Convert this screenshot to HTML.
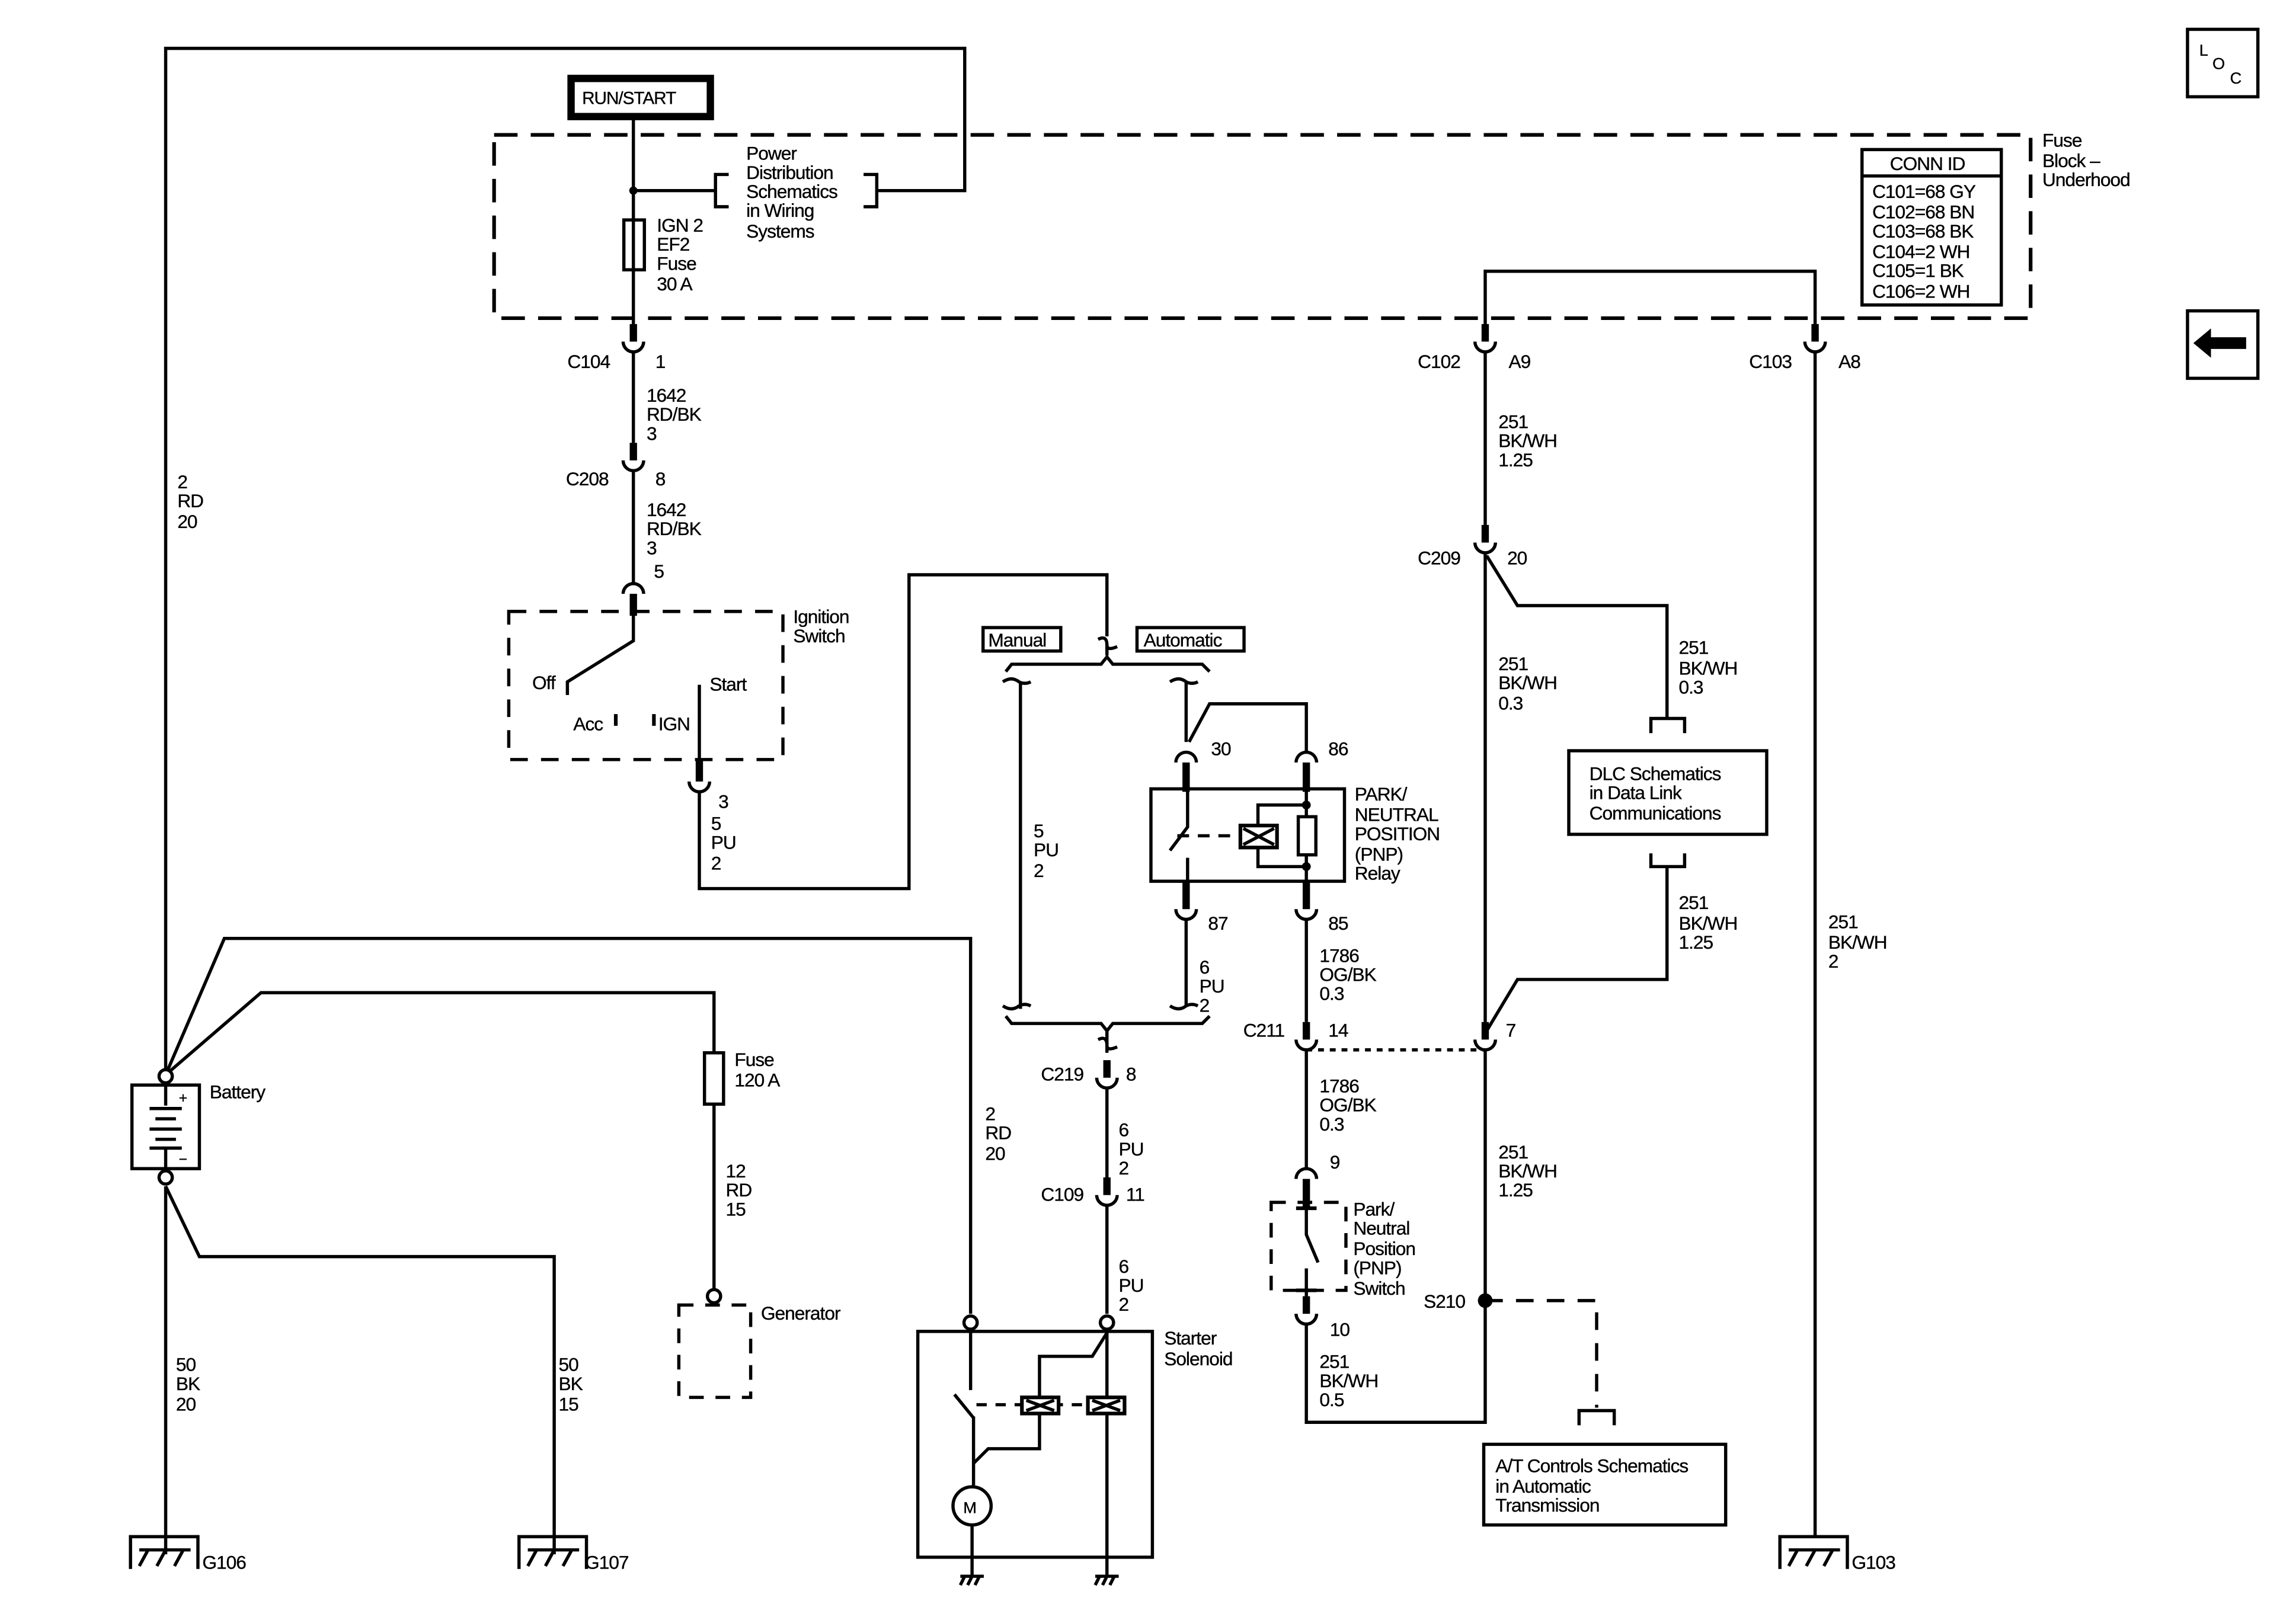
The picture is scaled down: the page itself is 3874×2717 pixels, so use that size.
<!DOCTYPE html>
<html><head><meta charset="utf-8"><style>
html,body{margin:0;padding:0;background:#fff;}
svg{display:block}
text{font-family:"Liberation Sans",sans-serif;font-size:12.8px;fill:#000;letter-spacing:-0.4px;stroke:#000;stroke-width:0.15px}
</style></head><body>
<svg width="3874" height="2717" viewBox="0 0 1566 1098" preserveAspectRatio="none" xmlns="http://www.w3.org/2000/svg">
<rect width="1566" height="1098" fill="#fff"/>
<g fill="none" stroke="#000" stroke-width="2.2" stroke-linecap="butt">
<polyline points="113,733 113,33 658,33 658,130 598,130"/>
<rect x="389.5" y="53.5" width="95" height="26" stroke-width="5"/>
<line x1="432" y1="80" x2="432" y2="221"/>
<line x1="432" y1="130" x2="488" y2="130"/>
<polyline points="497,119 488,119 488,141 497,141"/>
<polyline points="589,119 598,119 598,141 589,141"/>
<rect x="425.5" y="150" width="14" height="34"/>
<rect x="337" y="92" width="1048" height="125" stroke-width="2.5" stroke-dasharray="16,9"/>
<rect x="1270" y="102" width="95" height="106"/>
<line x1="1270" y1="120" x2="1365" y2="120"/>
<rect x="1492" y="20" width="48" height="46"/>
<rect x="1492" y="212" width="48" height="46"/>
<polyline points="1013,222 1013,185 1238,185 1238,222"/>

<line x1="432" y1="240" x2="432" y2="302"/>
<line x1="432" y1="321" x2="432" y2="398"/>
<rect x="347" y="417" width="187" height="101" stroke-dasharray="12,9"/>
<polyline points="432,417 432,437 387,465 387,474"/>
<line x1="420" y1="487" x2="420" y2="495" stroke-width="2.5"/>
<line x1="446" y1="487" x2="446" y2="495" stroke-width="2.5"/>
<line x1="477" y1="467" x2="477" y2="521"/>
<polyline points="477,540 477,606 620,606 620,392 755,392 755,434"/>
<path d="M749,436 Q755,433 755,440 Q755,444 762,441"/>
<line x1="755" y1="440" x2="755" y2="447"/>
<rect x="670.5" y="428" width="53" height="16"/>
<rect x="775.5" y="428" width="73" height="16"/>
<polyline points="686,458 690,453 751,453 755,448 759,453 820,453 825,458"/>
<path d="M684,465 Q690,461 695,465 Q699,467 703,465"/>
<path d="M798,465 Q804,461 809,465 Q813,467 817,465"/>
<line x1="696" y1="465" x2="696" y2="688"/>
<line x1="809" y1="465" x2="809" y2="506"/>
<path d="M684,686 Q690,690 695,686 Q699,684 703,686"/>
<path d="M798,686 Q804,690 809,686 Q813,684 817,686"/>
<polyline points="686,693 690,698 751,698 755,703 759,698 820,698 825,693"/>
<path d="M749,709 Q755,706 755,713 Q755,717 762,714"/>
<line x1="755" y1="703" x2="755" y2="718"/>
<line x1="809" y1="627" x2="809" y2="686"/>
<polyline points="811,506 825,480 891,480 891,513"/>
<rect x="785" y="538" width="132" height="63"/>
<polyline points="810,538 810,564 798,580"/>
<line x1="810" y1="585" x2="810" y2="601"/>
<line x1="803" y1="570" x2="845" y2="570" stroke-dasharray="8,6"/>
<rect x="846" y="563" width="25" height="15" stroke-width="2.5"/>
<path d="M848,565 L869,576 M869,565 L848,576"/>
<polyline points="858,563 858,549 891,549"/>
<polyline points="858,578 858,591 891,591"/>
<line x1="891" y1="538" x2="891" y2="601"/>
<rect x="885.5" y="557" width="12" height="26" fill="#fff"/>
<line x1="891" y1="627" x2="891" y2="697"/>
<line x1="891" y1="716" x2="891" y2="797"/>
<line x1="891" y1="716" x2="1013" y2="716" stroke-dasharray="4,4"/>
<rect x="867" y="820" width="51" height="60" stroke-dasharray="10,8"/>
<polyline points="891,816 891,842 899,861"/>
<line x1="891" y1="865" x2="891" y2="884"/>
<polyline points="891,903 891,970 1013,970 1013,716"/>
<line x1="1013" y1="240" x2="1013" y2="358"/>
<line x1="1013" y1="377" x2="1013" y2="697"/>
<polyline points="1014,379 1035,413 1137,413 1137,490"/>
<polyline points="1126,500 1126,490 1149,490 1149,500"/>
<rect x="1070" y="512" width="135" height="57"/>
<polyline points="1126,582 1126,591 1149,591 1149,582"/>
<polyline points="1137,591 1137,668 1035,668 1014,703"/>
<polyline points="1013,887 1089,887 1089,960" stroke-dasharray="12,9"/>
<polyline points="1077,972 1077,962 1101,962 1101,972"/>
<rect x="1012" y="985" width="165" height="55"/>
<line x1="1238" y1="240" x2="1238" y2="1048"/>
<rect x="90" y="740" width="46" height="57"/>
<polyline points="113,733 153,640 662,640 662,896"/>
<polyline points="113,733 178,677 487,677 487,718"/>
<rect x="480.5" y="718" width="13" height="35"/>
<line x1="487" y1="753" x2="487" y2="880"/>
<rect x="463" y="890" width="49" height="63" stroke-dasharray="10,8"/>
<line x1="113" y1="809" x2="113" y2="1060"/>
<polyline points="113,809 136,857 378,857 378,1060"/>
<line x1="113" y1="740" x2="113" y2="754"/>
<line x1="113" y1="783" x2="113" y2="797"/>
<line x1="102" y1="756" x2="124" y2="756"/>
<line x1="106" y1="763" x2="120" y2="763"/>
<line x1="102" y1="770" x2="124" y2="770"/>
<line x1="106" y1="777" x2="120" y2="777"/>
<line x1="102" y1="783" x2="124" y2="783"/>
<line x1="755" y1="742" x2="755" y2="803"/>
<line x1="755" y1="822" x2="755" y2="896"/>
<rect x="626" y="908" width="160" height="154"/>
<line x1="662" y1="908" x2="662" y2="948"/>
<line x1="651" y1="951" x2="664" y2="967"/>
<line x1="664" y1="966" x2="664" y2="1013"/>
<circle cx="663" cy="1027" r="13"/>
<line x1="663" y1="1040" x2="663" y2="1075"/>
<polyline points="664,998 674,988 709,988 709,964"/>
<polyline points="709,953 709,925 745,925 755,909"/>
<line x1="755" y1="909" x2="755" y2="1075"/>
<line x1="666" y1="958" x2="742" y2="958" stroke-dasharray="7,6"/>
<rect x="697" y="953" width="25" height="11" fill="#fff" stroke-width="2.5"/>
<path d="M700,955 L719,962 M719,955 L700,962"/>
<rect x="742" y="953" width="25" height="11" fill="#fff" stroke-width="2.5"/>
<path d="M745,955 L764,962 M764,955 L745,962"/>
<circle cx="113" cy="734" r="4.5" fill="#fff"/>
<circle cx="113" cy="803" r="4.5" fill="#fff"/>
<circle cx="487" cy="884" r="4.5" fill="#fff"/>
<circle cx="662" cy="902" r="4.5" fill="#fff"/>
<circle cx="755" cy="902" r="4.5" fill="#fff"/>
</g>
<g fill="#000">
<circle cx="432" cy="130" r="2.8"/>
<circle cx="891" cy="549" r="3"/>
<circle cx="891" cy="591" r="3"/>
<circle cx="1013" cy="887" r="5"/>
<path d="M1496,234 L1508,224 L1508,230 L1532,230 L1532,238 L1508,238 L1508,244 Z"/>
</g>
<g fill="none" stroke="#000">
<g stroke-width="5">
<line x1="432" y1="221" x2="432" y2="233"/><line x1="432" y1="302" x2="432" y2="314"/>
<line x1="477" y1="518" x2="477" y2="533"/>
<line x1="1013" y1="221" x2="1013" y2="233"/><line x1="1238" y1="221" x2="1238" y2="233"/>
<line x1="1013" y1="358" x2="1013" y2="370"/>
<line x1="809" y1="601" x2="809" y2="620"/><line x1="891" y1="601" x2="891" y2="620"/>
<line x1="891" y1="697" x2="891" y2="709"/><line x1="1013" y1="697" x2="1013" y2="709"/>
<line x1="755" y1="723" x2="755" y2="735"/><line x1="755" y1="803" x2="755" y2="815"/>
<line x1="891" y1="884" x2="891" y2="896"/>
<line x1="432" y1="405" x2="432" y2="420"/>
<line x1="809" y1="520" x2="809" y2="540"/><line x1="891" y1="520" x2="891" y2="540"/>
<line x1="891" y1="804" x2="891" y2="824"/>
<line x1="884" y1="824" x2="898" y2="824" stroke-width="2.5"/>
<line x1="884" y1="880" x2="898" y2="880" stroke-width="2.5"/>
</g>
<g stroke-width="2.2">
<path d="M425,233 A7,7 0 0 0 439,233"/><path d="M425,314 A7,7 0 0 0 439,314"/>
<path d="M470,533 A7,7 0 0 0 484,533"/>
<path d="M1006,233 A7,7 0 0 0 1020,233"/><path d="M1231,233 A7,7 0 0 0 1245,233"/>
<path d="M1006,370 A7,7 0 0 0 1020,370"/>
<path d="M802,620 A7,7 0 0 0 816,620"/><path d="M884,620 A7,7 0 0 0 898,620"/>
<path d="M884,709 A7,7 0 0 0 898,709"/><path d="M1006,709 A7,7 0 0 0 1020,709"/>
<path d="M748,735 A7,7 0 0 0 762,735"/><path d="M748,815 A7,7 0 0 0 762,815"/>
<path d="M884,896 A7,7 0 0 0 898,896"/>
<path d="M425,405 A7,7 0 0 1 439,405"/>
<path d="M802,520 A7,7 0 0 1 816,520"/><path d="M884,520 A7,7 0 0 1 898,520"/>
<path d="M884,804 A7,7 0 0 1 898,804"/>
</g>
<g stroke-width="2.2">
<path d="M89,1070 V1048 H135 V1070 M95,1057 H130 M101,1057 L95,1068 M113,1057 L107,1068 M125,1057 L119,1068"/>
<path d="M354,1070 V1048 H400 V1070 M360,1057 H395 M366,1057 L360,1068 M378,1057 L372,1068 M390,1057 L384,1068"/>
<path d="M1214,1070 V1048 H1260 V1070 M1220,1057 H1255 M1226,1057 L1220,1068 M1238,1057 L1232,1068 M1250,1057 L1244,1068"/>
<path d="M655,1075 H671 M658,1075 L655,1081 M663,1075 L660,1081 M668,1075 L665,1081"/>
<path d="M747,1075 H763 M750,1075 L747,1081 M755,1075 L752,1081 M760,1075 L757,1081"/>
</g>
</g>
<text x="397" y="71" style="font-size:12px">RUN/START</text>
<text x="509" y="109">Power</text><text x="509" y="122">Distribution</text><text x="509" y="135">Schematics</text><text x="509" y="148">in Wiring</text><text x="509" y="162">Systems</text>
<text x="448" y="158">IGN 2</text><text x="448" y="171">EF2</text><text x="448" y="184">Fuse</text><text x="448" y="198">30 A</text>
<text x="1289" y="116">CONN ID</text>
<text x="1277" y="135">C101=68 GY</text><text x="1277" y="149">C102=68 BN</text><text x="1277" y="162">C103=68 BK</text><text x="1277" y="176">C104=2 WH</text><text x="1277" y="189">C105=1 BK</text><text x="1277" y="203">C106=2 WH</text>
<text x="1393" y="100">Fuse</text><text x="1393" y="114">Block –</text><text x="1393" y="127">Underhood</text>
<text x="1500" y="38" style="font-size:11px">L</text><text x="1509" y="47" style="font-size:11px">O</text><text x="1521" y="57" style="font-size:11px">C</text>
<text x="387" y="251">C104</text><text x="447" y="251">1</text>
<text x="441" y="274">1642</text><text x="441" y="287">RD/BK</text><text x="441" y="300">3</text>
<text x="386" y="331">C208</text><text x="447" y="331">8</text>
<text x="441" y="352">1642</text><text x="441" y="365">RD/BK</text><text x="441" y="378">3</text>
<text x="446" y="394">5</text>
<text x="541" y="425">Ignition</text><text x="541" y="438">Switch</text>
<text x="363" y="470">Off</text><text x="484" y="471">Start</text>
<text x="391" y="498">Acc</text><text x="449" y="498">IGN</text>
<text x="490" y="551">3</text><text x="485" y="566">5</text><text x="485" y="579">PU</text><text x="485" y="593">2</text>
<text x="674" y="441">Manual</text><text x="780" y="441">Automatic</text>
<text x="705" y="571">5</text><text x="705" y="584">PU</text><text x="705" y="598">2</text>
<text x="826" y="515">30</text><text x="906" y="515">86</text>
<text x="924" y="546">PARK/</text><text x="924" y="560">NEUTRAL</text><text x="924" y="573">POSITION</text><text x="924" y="587">(PNP)</text><text x="924" y="600">Relay</text>
<text x="824" y="634">87</text><text x="906" y="634">85</text>
<text x="818" y="664">6</text><text x="818" y="677">PU</text><text x="818" y="690">2</text>
<text x="900" y="656">1786</text><text x="900" y="669">OG/BK</text><text x="900" y="682">0.3</text>
<text x="848" y="707">C211</text><text x="906" y="707">14</text>
<text x="1027" y="707">7</text>
<text x="710" y="737">C219</text><text x="768" y="737">8</text>
<text x="900" y="745">1786</text><text x="900" y="758">OG/BK</text><text x="900" y="771">0.3</text>
<text x="763" y="775">6</text><text x="763" y="788">PU</text><text x="763" y="801">2</text>
<text x="710" y="819">C109</text><text x="768" y="819">11</text>
<text x="763" y="868">6</text><text x="763" y="881">PU</text><text x="763" y="894">2</text>
<text x="907" y="797">9</text>
<text x="923" y="829">Park/</text><text x="923" y="842">Neutral</text><text x="923" y="856">Position</text><text x="923" y="869">(PNP)</text><text x="923" y="883">Switch</text>
<text x="971" y="892">S210</text>
<text x="907" y="911">10</text>
<text x="900" y="933">251</text><text x="900" y="946">BK/WH</text><text x="900" y="959">0.5</text>
<text x="967" y="251">C102</text><text x="1029" y="251">A9</text>
<text x="1193" y="251">C103</text><text x="1254" y="251">A8</text>
<text x="1022" y="292">251</text><text x="1022" y="305">BK/WH</text><text x="1022" y="318">1.25</text>
<text x="967" y="385">C209</text><text x="1028" y="385">20</text>
<text x="1022" y="457">251</text><text x="1022" y="470">BK/WH</text><text x="1022" y="484">0.3</text>
<text x="1145" y="446">251</text><text x="1145" y="460">BK/WH</text><text x="1145" y="473">0.3</text>
<text x="1084" y="532">DLC Schematics</text><text x="1084" y="545">in Data Link</text><text x="1084" y="559">Communications</text>
<text x="1145" y="620">251</text><text x="1145" y="634">BK/WH</text><text x="1145" y="647">1.25</text>
<text x="1247" y="633">251</text><text x="1247" y="647">BK/WH</text><text x="1247" y="660">2</text>
<text x="1022" y="790">251</text><text x="1022" y="803">BK/WH</text><text x="1022" y="816">1.25</text>
<text x="1020" y="1004">A/T Controls Schematics</text><text x="1020" y="1018">in Automatic</text><text x="1020" y="1031">Transmission</text>
<text x="121" y="333">2</text><text x="121" y="346">RD</text><text x="121" y="360">20</text>
<text x="143" y="749">Battery</text>
<text x="122" y="752" style="font-size:10px">+</text><text x="122" y="794" style="font-size:10px">−</text>
<text x="501" y="727">Fuse</text><text x="501" y="741">120 A</text>
<text x="495" y="803">12</text><text x="495" y="816">RD</text><text x="495" y="829">15</text>
<text x="519" y="900">Generator</text>
<text x="672" y="764">2</text><text x="672" y="777">RD</text><text x="672" y="791">20</text>
<text x="794" y="917">Starter</text><text x="794" y="931">Solenoid</text>
<text x="657" y="1032" style="font-size:11px">M</text>
<text x="120" y="935">50</text><text x="120" y="948">BK</text><text x="120" y="962">20</text>
<text x="381" y="935">50</text><text x="381" y="948">BK</text><text x="381" y="962">15</text>
<text x="138" y="1070">G106</text><text x="399" y="1070">G107</text><text x="1263" y="1070">G103</text>
</svg>
</body></html>
